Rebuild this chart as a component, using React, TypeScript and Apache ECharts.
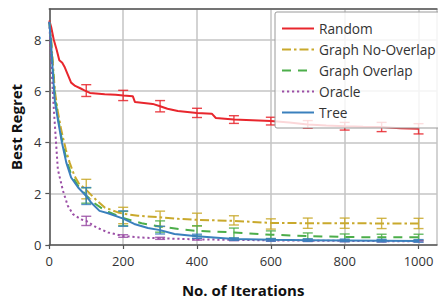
import React, { useEffect, useRef } from "react";
import * as echarts from "echarts";

const xTicks = [0, 200, 400, 600, 800, 1000];
const yTicks = [0, 2, 4, 6, 8];

const randomX = [0, 5, 12, 20, 27, 35, 41, 50, 59, 70, 85, 95, 110, 150, 180, 200, 226, 232, 280, 300, 320, 348, 400, 440, 451, 500, 550, 600, 650, 700, 750, 800, 850, 900, 950, 1000];
const randomY = [8.75, 8.5, 8.0, 7.6, 7.2, 7.1, 6.95, 6.64, 6.33, 6.2, 6.1, 6.03, 5.93, 5.88, 5.86, 5.83, 5.8, 5.57, 5.5, 5.41, 5.31, 5.22, 5.15, 5.12, 4.95, 4.89, 4.86, 4.83, 4.78, 4.7, 4.66, 4.63, 4.61, 4.6, 4.55, 4.53];

const noOverlapX = [0, 5, 10, 15, 23, 32, 45, 55, 68, 80, 100, 120, 150, 186, 200, 240, 300, 350, 400, 450, 500, 550, 600, 700, 800, 900, 1000];
const noOverlapY = [8.7, 8.0, 7.0, 6.0, 5.2, 4.5, 3.7, 3.21, 2.7, 2.4, 2.15, 1.85, 1.46, 1.27, 1.22, 1.14, 1.08, 1.02, 0.98, 0.96, 0.94, 0.9, 0.86, 0.85, 0.85, 0.84, 0.84];

const overlapX = [0, 5, 10, 15, 23, 34, 46, 59, 78, 100, 120, 150, 200, 250, 300, 350, 400, 450, 500, 600, 700, 800, 900, 1000];
const overlapY = [8.7, 7.9, 6.8, 5.8, 5.0, 4.1, 3.35, 2.75, 2.3, 1.93, 1.65, 1.35, 1.05, 0.85, 0.72, 0.62, 0.55, 0.52, 0.49, 0.4, 0.35, 0.31, 0.3, 0.3];

const oracleX = [0, 5, 10, 14, 23, 37, 50, 64, 86, 100, 127, 159, 200, 250, 300, 400, 500, 600, 700, 800, 900, 1000];
const oracleY = [8.7, 7.2, 5.8, 4.9, 2.95, 2.11, 1.53, 1.2, 1.0, 0.94, 0.69, 0.49, 0.35, 0.29, 0.26, 0.22, 0.2, 0.18, 0.17, 0.16, 0.15, 0.15];

const treeX = [0, 5, 10, 15, 23, 34, 46, 59, 78, 100, 113, 136, 159, 200, 230, 267, 300, 339, 400, 500, 600, 700, 800, 900, 1000];
const treeY = [8.7, 7.8, 6.6, 5.6, 4.9, 4.0, 3.21, 2.63, 2.24, 1.91, 1.66, 1.33, 1.24, 1.03, 0.82, 0.66, 0.58, 0.43, 0.34, 0.23, 0.2, 0.19, 0.18, 0.17, 0.16];

const errX = [100, 200, 300, 400, 500, 600, 700, 800, 900, 1000];
const randomMean = [6.02, 5.83, 5.41, 5.15, 4.89, 4.83, 4.7, 4.63, 4.6, 4.53];
const randomErr = [0.23, 0.2, 0.22, 0.18, 0.15, 0.15, 0.15, 0.15, 0.18, 0.2];
const noOverlapMean = [2.18, 1.15, 1.02, 0.99, 0.96, 0.82, 0.85, 0.85, 0.84, 0.84];
const noOverlapErr = [0.38, 0.32, 0.3, 0.25, 0.18, 0.2, 0.2, 0.2, 0.2, 0.2];
const overlapMean = [1.93, 1.03, 0.72, 0.55, 0.46, 0.4, 0.35, 0.31, 0.3, 0.3];
const overlapErr = [0.3, 0.28, 0.22, 0.2, 0.2, 0.15, 0.12, 0.12, 0.12, 0.12];
const oracleMean = [0.94, 0.35, 0.26, 0.22, 0.2, 0.18, 0.17, 0.16, 0.15, 0.15];
const oracleErr = [0.18, 0.05, 0.04, 0.03, 0.03, 0.03, 0.03, 0.03, 0.03, 0.03];
const treeMean = [1.91, 1.03, 0.58, 0.34, 0.23, 0.2, 0.19, 0.18, 0.17, 0.16];
const treeErr = [0.33, 0.3, 0.15, 0.08, 0.05, 0.05, 0.05, 0.05, 0.05, 0.05];

const names = ["Random", "Graph No-Overlap", "Graph Overlap", "Oracle", "Tree"];
const colors = ["#e8262d", "#c9a92c", "#4cae4a", "#9b4fa6", "#3a80bd"];
const dashes: any[] = ["solid", [9, 3, 2.5, 3], [9, 7], [2.2, 2.8], "solid"];

const FONT = "Open Sans";

export default function App() {
  const ref = useRef<HTMLDivElement>(null);
  useEffect(() => {
    if (!ref.current) return;
    const chart = echarts.init(ref.current, undefined, { renderer: "svg" });
    const lines = [
      [randomX, randomY],
      [noOverlapX, noOverlapY],
      [overlapX, overlapY],
      [oracleX, oracleY],
      [treeX, treeY],
    ];
    const errs = [
      [randomMean, randomErr],
      [noOverlapMean, noOverlapErr],
      [overlapMean, overlapErr],
      [oracleMean, oracleErr],
      [treeMean, treeErr],
    ];
    const series: any[] = [];
    names.forEach((n, i) => {
      const [xs, ys] = lines[i];
      series.push({
        type: "line",
        name: n,
        data: xs.map((x, k) => [x, ys[k]]),
        showSymbol: false,
        symbol: "none",
        lineStyle: { color: colors[i], width: 2, type: dashes[i] },
        itemStyle: { color: colors[i] },
        z: 2 + i,
      });
    });
    names.forEach((n, i) => {
      const [m, e] = errs[i];
      const color = colors[i];
      series.push({
        type: "custom",
        name: n + " err",
        data: errX.map((x, k) => [x, m[k] - e[k], m[k] + e[k]]),
        encode: { x: 0, y: [1, 2] },
        z: 2 + i,
        renderItem: (params: any, api: any) => {
          const x = api.value(0);
          const p1 = api.coord([x, api.value(1)]);
          const p2 = api.coord([x, api.value(2)]);
          const w = 5;
          const st = { stroke: color, lineWidth: 1.4, opacity: 0.85 };
          return {
            type: "group",
            children: [
              { type: "line", shape: { x1: p1[0], y1: p1[1], x2: p2[0], y2: p2[1] }, style: st },
              { type: "line", shape: { x1: p1[0] - w, y1: p1[1], x2: p1[0] + w, y2: p1[1] }, style: st },
              { type: "line", shape: { x1: p2[0] - w, y1: p2[1], x2: p2[0] + w, y2: p2[1] }, style: st },
            ],
          };
        },
      });
    });
    chart.setOption({
      animation: false,
      textStyle: { fontFamily: FONT },
      grid: { left: 48, right: 1, top: 9, bottom: 56 },
      legend: {
        data: names,
        orient: "vertical",
        left: 275,
        top: 12,
        padding: [9, 6, 8, 6],
        itemWidth: 32,
        itemHeight: 14,
        itemGap: 6,
        backgroundColor: "rgba(255,255,255,0.82)",
        borderColor: "#9a9a9a",
        borderWidth: 1,
        borderRadius: 2,
        itemStyle: { opacity: 0, borderWidth: 0 },
        textStyle: { fontFamily: FONT, fontSize: 13.7, color: "#333", lineHeight: 15 },
        z: 10,
      },
      xAxis: [
        {
          type: "value",
          min: 0,
          max: 1050,
          interval: 200,
          name: "No. of Iterations",
          nameLocation: "middle",
          nameGap: 37,
          nameTextStyle: { fontFamily: FONT, fontSize: 15, fontWeight: "bold", color: "#111" },
          axisLine: { show: true, onZero: false, lineStyle: { color: "#555", width: 1.5 } },
          axisTick: { show: true, length: 4, lineStyle: { color: "#555", width: 1.2 } },
          axisLabel: {
            fontFamily: FONT,
            fontSize: 13,
            color: "#333",
            margin: 9,
            showMaxLabel: false,
            formatter: (v: number) => (xTicks.includes(v) ? String(v) : ""),
          },
          splitLine: { show: true, lineStyle: { color: "#c4c4c4", width: 1.5 } },
        },
        {
          type: "value",
          position: "top",
          min: 0,
          max: 1050,
          axisLine: { show: true, onZero: false, lineStyle: { color: "#555", width: 1.5 } },
          axisTick: { show: false },
          axisLabel: { show: false },
          splitLine: { show: false },
        },
      ],
      yAxis: {
        type: "value",
        min: 0,
        max: 9.2,
        interval: 2,
        name: "Best Regret",
        nameLocation: "middle",
        nameGap: 25,
        nameTextStyle: { fontFamily: FONT, fontSize: 15, fontWeight: "bold", color: "#111" },
        axisLine: { show: true, onZero: false, lineStyle: { color: "#555", width: 1.5 } },
        axisTick: { show: true, length: 4, lineStyle: { color: "#555", width: 1.2 } },
        axisLabel: {
          fontFamily: FONT,
          fontSize: 13,
          color: "#333",
          margin: 8,
          showMaxLabel: false,
          formatter: (v: number) => (yTicks.includes(v) ? String(v) : ""),
        },
        splitLine: { show: true, lineStyle: { color: "#c4c4c4", width: 1.5 } },
      },
      series,
    });
    return () => chart.dispose();
  }, []);
  return <div ref={ref} style={{ width: 438, height: 302, position: "absolute", left: 0, top: 0, background: "#fff" }} />;
}
